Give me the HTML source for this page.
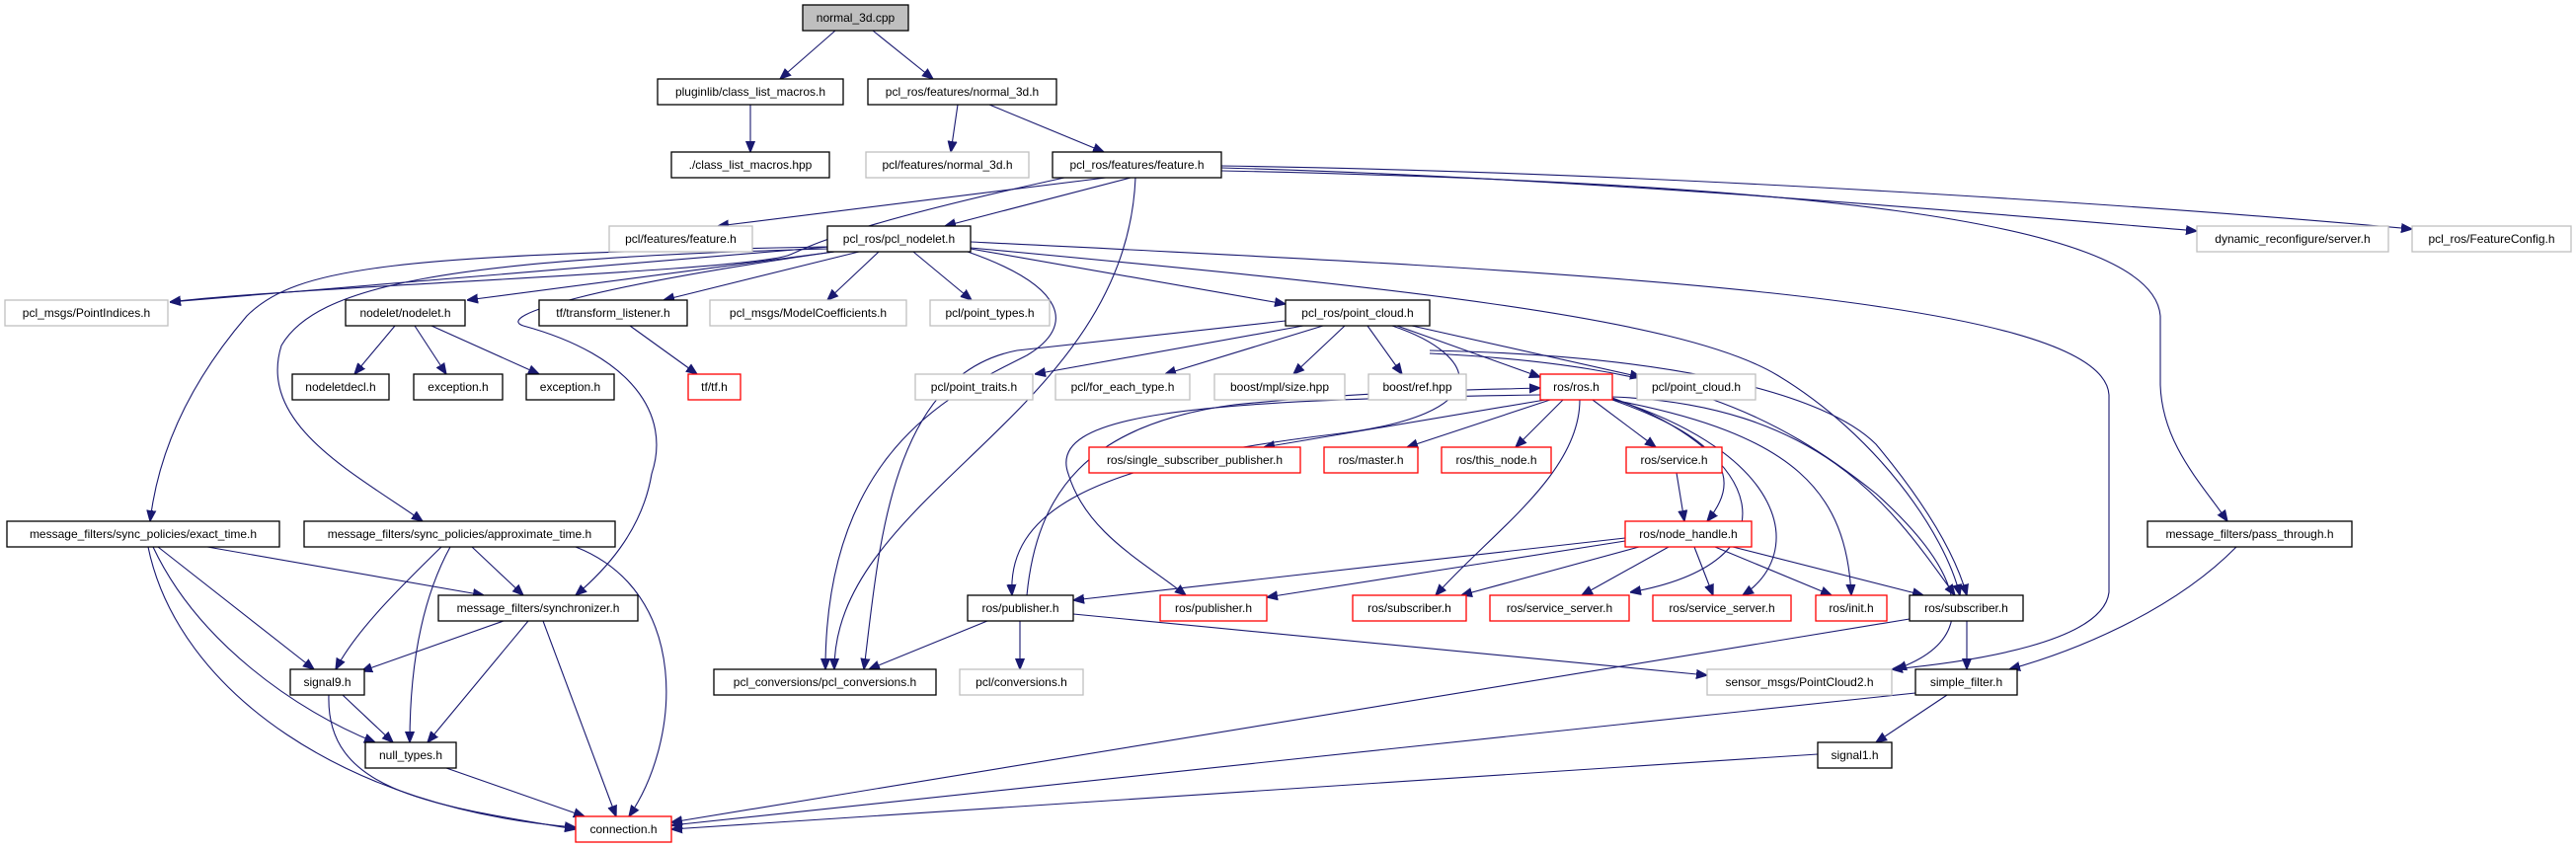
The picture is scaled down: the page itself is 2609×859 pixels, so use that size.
<!DOCTYPE html>
<html><head><meta charset="utf-8"><style>
html,body{margin:0;padding:0;background:#fff}
svg{display:block}
text{font-family:"Liberation Sans",Arial,sans-serif;font-size:12px;fill:#000}
.n{fill:#fff;stroke:#000;stroke-width:1.3}
.g{fill:#fff;stroke:#bfbfbf;stroke-width:1.3}
.r{fill:#fff;stroke:#ff0000;stroke-width:1.3}
.c{fill:#bfbfbf;stroke:#000;stroke-width:1.3}
path{fill:none;stroke:#191970;stroke-width:1.1;marker-end:url(#a)}
</style></head><body>
<svg width="2609" height="859" viewBox="0 0 2609 859" xmlns="http://www.w3.org/2000/svg">
<defs><marker id="a" viewBox="0 0 10 10" refX="10" refY="5" markerWidth="11" markerHeight="11" markerUnits="userSpaceOnUse" orient="auto"><path d="M0,1 L10,5 L0,9 z" style="fill:#191970;stroke:#191970;marker-end:none"/></marker></defs>
<g>
<path d="M846,31 L790,80"/>
<path d="M884,31 L945,80"/>
<path d="M760,106 L760,154"/>
<path d="M970,106 L963,154"/>
<path d="M1002,106 L1118,154"/>
<path d="M1120,180 L727,229"/>
<path d="M1145,180 L957,229"/>
<path d="M1078,180 C850,230 820,250 800,258 C760,275 300,290 172,306"/>
<path d="M1150,180 C1140,420 845,500 845,678"/>
<path d="M1237,170 C1600,180 2000,215 2225,234"/>
<path d="M1237,168 C1700,175 2200,210 2443,232"/>
<path d="M1237,173 C1800,185 2180,220 2188,320 L2188,390 C2190,450 2230,490 2256,528"/>
<path d="M840,250 L172,306"/>
<path d="M845,255 L473,304"/>
<path d="M870,255 L672,304"/>
<path d="M890,255 L838,304"/>
<path d="M925,255 L984,304"/>
<path d="M983,252 L1302,308"/>
<path d="M838,250 C400,258 300,270 250,320 C190,390 160,460 152,528"/>
<path d="M840,252 C450,262 320,290 285,350 C260,430 360,480 428,528"/>
<path d="M845,255 C600,290 500,320 530,330 C640,360 680,420 660,480 C650,540 610,580 583,603"/>
<path d="M980,255 C1080,290 1090,330 1040,360 C960,400 836,460 836,678"/>
<path d="M983,245 C1600,275 2130,300 2136,400 L2136,600 C2130,650 2000,670 1916,678"/>
<path d="M983,251 C1400,290 1700,320 1800,380 C1900,440 1970,540 1985,603"/>
<path d="M1448,355 C1700,360 1850,400 1900,450 C1950,510 1980,560 1992,603"/>
<path d="M1448,358 C1700,370 1800,420 1900,500 C2000,590 2000,650 1920,678"/>
<path d="M1302,325 L1030,355 C900,380 890,560 875,678"/>
<path d="M1320,330 L1048,379"/>
<path d="M1340,330 L1180,379"/>
<path d="M1362,330 L1310,379"/>
<path d="M1385,330 L1420,379"/>
<path d="M1415,330 L1560,382"/>
<path d="M1430,330 L1662,382"/>
<path d="M1410,330 C1500,360 1520,420 1350,440 C1100,470 1020,520 1025,603"/>
<path d="M1040,603 C1050,500 1100,430 1250,410 C1400,395 1500,395 1560,393"/>
<path d="M1565,405 L1280,453"/>
<path d="M1570,405 L1425,453"/>
<path d="M1583,405 L1535,453"/>
<path d="M1613,405 L1677,453"/>
<path d="M1633,405 C1760,450 1760,490 1729,528"/>
<path d="M1560,400 C1200,405 1060,420 1082,480 C1100,540 1160,570 1201,603"/>
<path d="M1600,405 C1600,480 1510,540 1454,603"/>
<path d="M1633,403 C1790,460 1820,570 1651,600"/>
<path d="M1633,404 C1810,460 1830,560 1765,603"/>
<path d="M1633,405 C1820,440 1870,500 1875,603"/>
<path d="M1633,402 C1850,410 1920,520 1980,603"/>
<path d="M1698,479 L1706,528"/>
<path d="M1646,545 L1087,608"/>
<path d="M1646,548 L1283,605"/>
<path d="M1660,554 L1480,603"/>
<path d="M1690,554 L1602,603"/>
<path d="M1716,554 L1735,603"/>
<path d="M1737,554 L1855,603"/>
<path d="M1755,554 L1948,603"/>
<path d="M1000,629 L880,678"/>
<path d="M1033,629 L1033,678"/>
<path d="M1087,622 L1729,684"/>
<path d="M1992,629 L1992,678"/>
<path d="M1934,627 L680,833"/>
<path d="M2265,554 C2200,620 2100,660 2035,678"/>
<path d="M1972,704 L1900,752"/>
<path d="M1940,702 L680,836"/>
<path d="M1841,764 L680,840"/>
<path d="M210,554 L490,603"/>
<path d="M160,554 L318,678"/>
<path d="M155,554 C200,650 300,720 380,752"/>
<path d="M150,554 C180,700 350,820 583,838"/>
<path d="M478,554 L530,603"/>
<path d="M447,554 C400,600 360,640 340,678"/>
<path d="M456,554 C420,620 415,700 415,752"/>
<path d="M583,554 C700,600 690,750 637,827"/>
<path d="M510,629 L366,680"/>
<path d="M535,629 L433,752"/>
<path d="M550,629 L624,827"/>
<path d="M347,704 L398,752"/>
<path d="M333,704 C330,800 430,815 583,840"/>
<path d="M452,778 L592,827"/>
<path d="M400,330 L359,379"/>
<path d="M420,330 L452,379"/>
<path d="M437,330 L546,379"/>
<path d="M638,330 L706,379"/>
</g>
<g text-anchor="middle">
<rect class="c" x="813" y="5" width="107" height="26"/><text x="866.5" y="22">normal_3d.cpp</text>
<rect class="n" x="666" y="80" width="188" height="26"/><text x="760" y="97">pluginlib/class_list_macros.h</text>
<rect class="n" x="879" y="80" width="191" height="26"/><text x="974.5" y="97">pcl_ros/features/normal_3d.h</text>
<rect class="n" x="680" y="154" width="160" height="26"/><text x="760" y="171">./class_list_macros.hpp</text>
<rect class="g" x="877" y="154" width="165" height="26"/><text x="959.5" y="171">pcl/features/normal_3d.h</text>
<rect class="n" x="1066" y="154" width="171" height="26"/><text x="1151.5" y="171">pcl_ros/features/feature.h</text>
<rect class="g" x="617" y="229" width="145" height="26"/><text x="689.5" y="246">pcl/features/feature.h</text>
<rect class="n" x="838" y="229" width="145" height="26"/><text x="910.5" y="246">pcl_ros/pcl_nodelet.h</text>
<rect class="g" x="2225" y="229" width="194" height="26"/><text x="2322" y="246">dynamic_reconfigure/server.h</text>
<rect class="g" x="2443" y="229" width="161" height="26"/><text x="2523.5" y="246">pcl_ros/FeatureConfig.h</text>
<rect class="g" x="5" y="304" width="165" height="26"/><text x="87.5" y="321">pcl_msgs/PointIndices.h</text>
<rect class="n" x="350" y="304" width="121" height="26"/><text x="410.5" y="321">nodelet/nodelet.h</text>
<rect class="n" x="546" y="304" width="150" height="26"/><text x="621" y="321">tf/transform_listener.h</text>
<rect class="g" x="719" y="304" width="199" height="26"/><text x="818.5" y="321">pcl_msgs/ModelCoefficients.h</text>
<rect class="g" x="942" y="304" width="121" height="26"/><text x="1002.5" y="321">pcl/point_types.h</text>
<rect class="n" x="1302" y="304" width="146" height="26"/><text x="1375" y="321">pcl_ros/point_cloud.h</text>
<rect class="n" x="296" y="379" width="98" height="26"/><text x="345" y="396">nodeletdecl.h</text>
<rect class="n" x="419" y="379" width="90" height="26"/><text x="464" y="396">exception.h</text>
<rect class="n" x="533" y="379" width="89" height="26"/><text x="577.5" y="396">exception.h</text>
<rect class="r" x="697" y="379" width="53" height="26"/><text x="723.5" y="396">tf/tf.h</text>
<rect class="g" x="927" y="379" width="119" height="26"/><text x="986.5" y="396">pcl/point_traits.h</text>
<rect class="g" x="1069" y="379" width="136" height="26"/><text x="1137" y="396">pcl/for_each_type.h</text>
<rect class="g" x="1230" y="379" width="132" height="26"/><text x="1296" y="396">boost/mpl/size.hpp</text>
<rect class="g" x="1386" y="379" width="99" height="26"/><text x="1435.5" y="396">boost/ref.hpp</text>
<rect class="r" x="1560" y="379" width="73" height="26"/><text x="1596.5" y="396">ros/ros.h</text>
<rect class="g" x="1658" y="379" width="120" height="26"/><text x="1718" y="396">pcl/point_cloud.h</text>
<rect class="r" x="1103" y="453" width="214" height="26"/><text x="1210" y="470">ros/single_subscriber_publisher.h</text>
<rect class="r" x="1341" y="453" width="95" height="26"/><text x="1388.5" y="470">ros/master.h</text>
<rect class="r" x="1460" y="453" width="111" height="26"/><text x="1515.5" y="470">ros/this_node.h</text>
<rect class="r" x="1647" y="453" width="97" height="26"/><text x="1695.5" y="470">ros/service.h</text>
<rect class="n" x="7" y="528" width="276" height="26"/><text x="145" y="545">message_filters/sync_policies/exact_time.h</text>
<rect class="n" x="308" y="528" width="315" height="26"/><text x="465.5" y="545">message_filters/sync_policies/approximate_time.h</text>
<rect class="r" x="1646" y="528" width="128" height="26"/><text x="1710" y="545">ros/node_handle.h</text>
<rect class="n" x="2175" y="528" width="207" height="26"/><text x="2278.5" y="545">message_filters/pass_through.h</text>
<rect class="n" x="444" y="603" width="202" height="26"/><text x="545" y="620">message_filters/synchronizer.h</text>
<rect class="n" x="980" y="603" width="107" height="26"/><text x="1033.5" y="620">ros/publisher.h</text>
<rect class="r" x="1175" y="603" width="108" height="26"/><text x="1229" y="620">ros/publisher.h</text>
<rect class="r" x="1370" y="603" width="115" height="26"/><text x="1427.5" y="620">ros/subscriber.h</text>
<rect class="r" x="1509" y="603" width="141" height="26"/><text x="1579.5" y="620">ros/service_server.h</text>
<rect class="r" x="1674" y="603" width="140" height="26"/><text x="1744" y="620">ros/service_server.h</text>
<rect class="r" x="1839" y="603" width="72" height="26"/><text x="1875" y="620">ros/init.h</text>
<rect class="n" x="1934" y="603" width="115" height="26"/><text x="1991.5" y="620">ros/subscriber.h</text>
<rect class="n" x="294" y="678" width="75" height="26"/><text x="331.5" y="695">signal9.h</text>
<rect class="n" x="723" y="678" width="225" height="26"/><text x="835.5" y="695">pcl_conversions/pcl_conversions.h</text>
<rect class="g" x="972" y="678" width="125" height="26"/><text x="1034.5" y="695">pcl/conversions.h</text>
<rect class="g" x="1729" y="678" width="187" height="26"/><text x="1822.5" y="695">sensor_msgs/PointCloud2.h</text>
<rect class="n" x="1940" y="678" width="103" height="26"/><text x="1991.5" y="695">simple_filter.h</text>
<rect class="n" x="370" y="752" width="92" height="26"/><text x="416" y="769">null_types.h</text>
<rect class="n" x="1841" y="752" width="75" height="26"/><text x="1878.5" y="769">signal1.h</text>
<rect class="r" x="583" y="827" width="97" height="26"/><text x="631.5" y="844">connection.h</text>
</g>
</svg>
</body></html>
